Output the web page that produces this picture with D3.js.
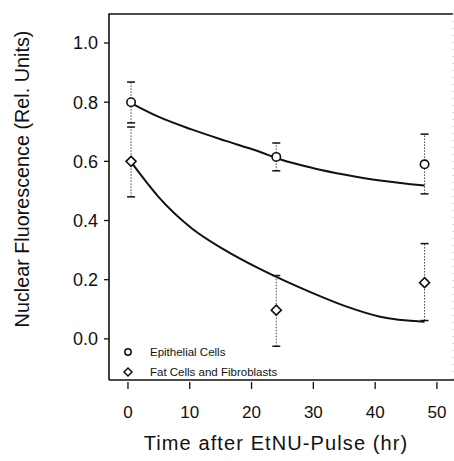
<!DOCTYPE html>
<html>
<head>
<meta charset="utf-8">
<script src="https://cdn.jsdelivr.net/npm/d3@7"></script>
<style>
 body { margin: 0; background: #fff; }
 svg text { font-family: "Liberation Sans", Arial, sans-serif; fill: #111; }
</style>
</head>
<body>
<div id="chart"></div>
<script>
// measured points (time in hr, fluorescence in rel. units)
var hours = [0.5, 24, 48];
var epiMean = [0.80, 0.615, 0.59];
var epiLow = [0.73, 0.568, 0.49];
var epiHigh = [0.868, 0.662, 0.692];
var fatMean = [0.60, 0.097, 0.19];
var fatLow = [0.48, -0.025, 0.062];
var fatHigh = [0.716, 0.214, 0.322];

// fitted curves
var epiFitT = [0.5, 4.9, 10.3, 15.7, 21.1, 24.6, 30, 35.4, 40.8, 48];
var epiFitV = [0.797, 0.751, 0.708, 0.670, 0.634, 0.607, 0.577, 0.554, 0.535, 0.518];
var fatFitT = [0.5, 4.9, 10.3, 15.7, 21.1, 25.4, 30, 35.4, 40.8, 48];
var fatFitV = [0.598, 0.481, 0.374, 0.300, 0.239, 0.196, 0.154, 0.109, 0.075, 0.058];

var xTicks = [0, 10, 20, 30, 40, 50];
var yTicks = [0.0, 0.2, 0.4, 0.6, 0.8, 1.0];
var legendLabels = ["Epithelial Cells", "Fat Cells and Fibroblasts"];

var w = 454, h = 461;
var padL = 109, padR = 453, padT = 14, padB = 380;

var mysvg = d3.select("#chart").append("svg").attr("width", w).attr("height", h);

var x = d3.scaleLinear().domain([-3.07, 52.6]).range([padL, padR]);
var y = d3.scaleLinear().domain([-0.139, 1.098]).range([padB, padT]);

// frame: solid left, top, bottom; faint dotted right
mysvg.append("path").attr("d", "M" + padL + "," + padB + "V" + padT + "H" + padR)
 .attr("fill", "none").attr("stroke", "#111").attr("stroke-width", 1.6);
mysvg.append("line").attr("x1", padL).attr("x2", w).attr("y1", padB).attr("y2", padB)
 .attr("stroke", "#111").attr("stroke-width", 1.6);
mysvg.append("line").attr("x1", padR).attr("x2", padR).attr("y1", padT).attr("y2", padB)
 .attr("stroke", "#bbb").attr("stroke-width", 1).attr("stroke-dasharray", "1,6");

// y axis ticks
var yAxis = mysvg.append("g");
yTicks.forEach(function (v) {
 yAxis.append("line").attr("x1", padL - 5).attr("x2", padL).attr("y1", y(v)).attr("y2", y(v))
     .attr("stroke", "#111").attr("stroke-width", 1.3);
 yAxis.append("text").attr("x", padL - 11).attr("y", y(v)).attr("dy", "0.36em")
     .attr("text-anchor", "end").attr("font-size", 18).text(d3.format(".1f")(v));
});

// x axis ticks
var xAxis = mysvg.append("g");
xTicks.forEach(function (v) {
 xAxis.append("line").attr("x1", x(v)).attr("x2", x(v)).attr("y1", padB + 2).attr("y2", padB + 9)
     .attr("stroke", "#111").attr("stroke-width", 1.3);
 xAxis.append("text").attr("x", x(v)).attr("y", 418).attr("text-anchor", "middle")
     .attr("font-size", 17).text(v);
});

mysvg.append("text").attr("x", 276).attr("y", 450).attr("text-anchor", "middle")
 .attr("font-size", 20).attr("letter-spacing", 1.1).text("Time after EtNU-Pulse (hr)");
mysvg.append("text").attr("transform", "translate(29,179) rotate(-90)")
 .attr("text-anchor", "middle").attr("font-size", 19.8).text("Nuclear Fluorescence (Rel. Units)");

// fitted curves
var line = d3.line().x(function (d) { return x(d[0]); }).y(function (d) { return y(d[1]); })
 .curve(d3.curveMonotoneX);
[[epiFitT, epiFitV], [fatFitT, fatFitV]].forEach(function (s) {
 mysvg.append("path").datum(d3.zip(s[0], s[1])).attr("d", line)
     .attr("fill", "none").attr("stroke", "#111").attr("stroke-width", 2);
});

// error bars
function errorBars(lo, hi) {
 var g = mysvg.append("g");
 hours.forEach(function (t, i) {
     g.append("line").attr("x1", x(t)).attr("x2", x(t)).attr("y1", y(lo[i])).attr("y2", y(hi[i]))
         .attr("stroke", "#444").attr("stroke-width", 1).attr("stroke-dasharray", "1.5,1.5");
     [lo[i], hi[i]].forEach(function (v) {
         g.append("line").attr("x1", x(t) - 4).attr("x2", x(t) + 4).attr("y1", y(v)).attr("y2", y(v))
             .attr("stroke", "#111").attr("stroke-width", 1.5);
     });
 });
}
errorBars(epiLow, epiHigh);
errorBars(fatLow, fatHigh);

var diamond = function (cx, cy, r) {
 return "M" + cx + "," + (cy - r) + "L" + (cx + r) + "," + cy + "L" + cx + "," + (cy + r) + "L" + (cx - r) + "," + cy + "Z";
};

// markers
hours.forEach(function (t, i) {
 mysvg.append("circle").attr("cx", x(t)).attr("cy", y(epiMean[i])).attr("r", 4.2)
     .attr("fill", "#fff").attr("stroke", "#111").attr("stroke-width", 1.6);
 mysvg.append("path").attr("d", diamond(x(t), y(fatMean[i]), 5))
     .attr("fill", "#fff").attr("stroke", "#111").attr("stroke-width", 1.6);
});

// legend
var legend = mysvg.append("g");
legend.append("circle").attr("cx", 128).attr("cy", 352).attr("r", 3.2)
 .attr("fill", "#fff").attr("stroke", "#111").attr("stroke-width", 1.5);
legend.append("path").attr("d", diamond(128, 372, 4))
 .attr("fill", "#fff").attr("stroke", "#111").attr("stroke-width", 1.5);
legendLabels.forEach(function (s, i) {
 legend.append("text").attr("x", 150).attr("y", 352 + i * 20).attr("dy", "0.36em")
     .attr("font-size", 11.5).text(s);
});
</script>
</body>
</html>
